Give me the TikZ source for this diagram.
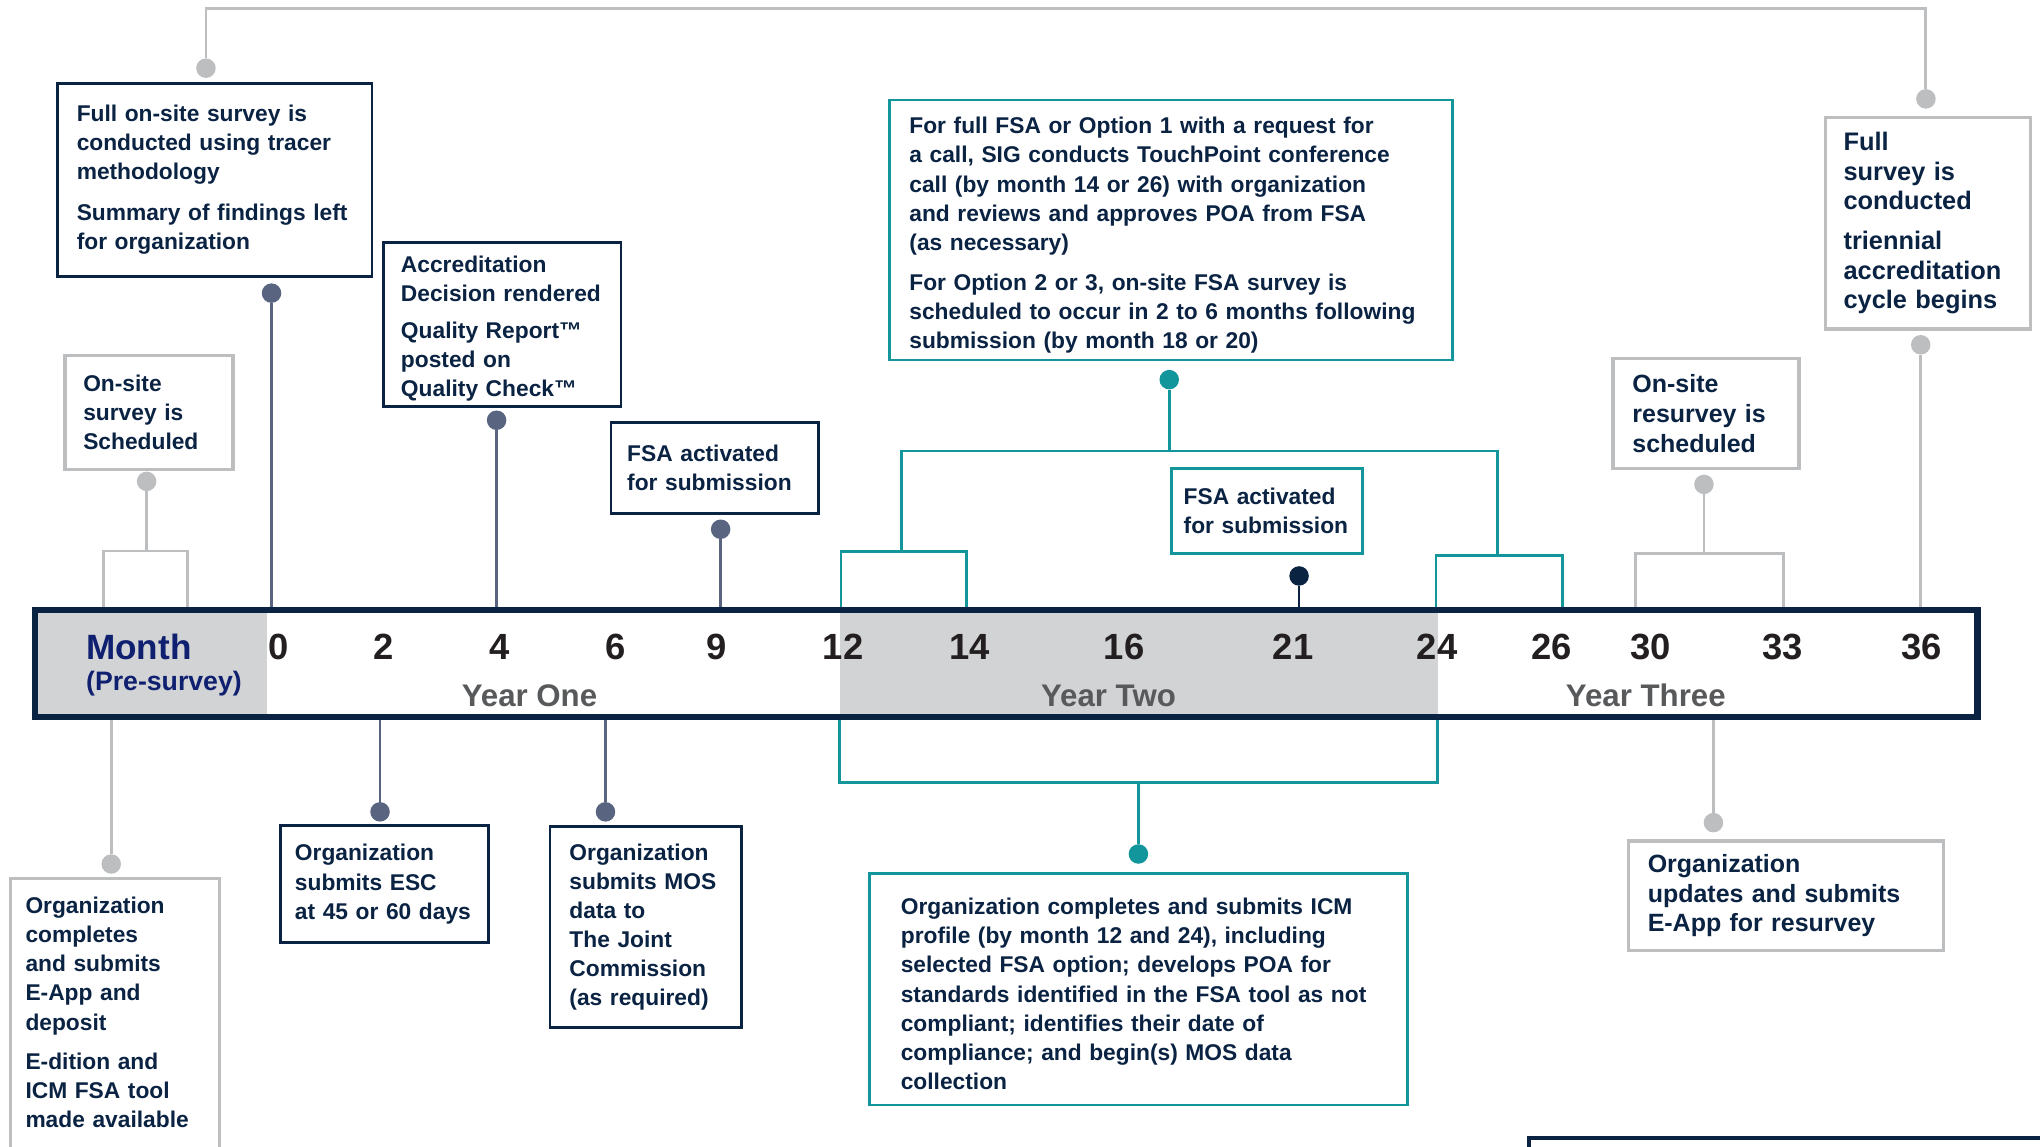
\documentclass[tikz,border=0pt]{standalone}
\usepackage{fontspec}
\setmainfont{Liberation Sans}
\usepackage{tikz}
\definecolor{navy}{RGB}{11,35,67}
\definecolor{monthblue}{RGB}{16,32,112}
\definecolor{jcteal}{RGB}{18,150,156}
\definecolor{slate}{RGB}{88,100,128}
\definecolor{linegray}{RGB}{188,190,192}
\definecolor{bargray}{RGB}{209,211,212}
\definecolor{yeargray}{RGB}{88,89,91}
\definecolor{numblack}{RGB}{35,31,32}
\newcommand\boxfont{\fontsize{17.5}{22.4}\selectfont\bfseries}
\newcommand\wideboxfont{\fontsize{19.2}{22.8}\selectfont\bfseries}

\begin{document}
\begin{tikzpicture}[x=1pt,y=-1pt,
    navybox/.style={draw=navy,line width=2pt,fill=white,anchor=north west,outer sep=0pt,align=left,text=navy,font=\boxfont},
    graybox/.style={navybox,draw=linegray,line width=2.5pt},
    tealbox/.style={navybox,draw=jcteal,line width=2.2pt},
    dot/.style={circle,inner sep=0pt,minimum size=15pt},
    grayline/.style={draw=linegray,line width=2.2pt},
    slateline/.style={draw=slate,line width=1.8pt},
    tealline/.style={draw=jcteal,line width=2pt},
    navyline/.style={draw=navy,line width=2pt},
    monthnum/.style={anchor=base,inner sep=0pt,text=numblack,font=\fontsize{28}{28}\selectfont\bfseries},
    yearlabel/.style={anchor=base,inner sep=0pt,text=yeargray,font=\fontsize{24}{24}\selectfont\bfseries}]
                      \useasboundingbox (0,0) rectangle (1568,881);
                      \clip (0,0) rectangle (1568,881);
                      \fill[bargray] (27,469) rectangle (205,551);
                      \fill[bargray] (646,469) rectangle (1105,551);
                      \node[draw=navy,line width=5pt,inner sep=0pt,minimum width=1493pt,minimum height=82pt,anchor=north west] (bar) at (24.5,466.5) {};
                      \node[anchor=base west,inner sep=0pt,text=monthblue,font=\fontsize{27}{27}\selectfont\bfseries] (monthlbl) at (66,507) {Month};
                      \node[anchor=base west,inner sep=0pt,text=monthblue,font=\fontsize{20.5}{20.5}\selectfont\bfseries] (presurvey) at (66,531) {(Pre-survey)};
                      \foreach \m/\x in {0/214,2/295,4/384,6/473,9/551,12/648,14/745,16/864,21/994,24/1104.6,26/1192.7,30/1268.7,33/1370,36/1477}
                      \node[monthnum] (num\m) at (\x,506.8) {\m};
                      \node[yearlabel] (yearone) at (407,543) {Year One};
                      \node[yearlabel] (yeartwo) at (852,543) {Year Two};
                      \node[yearlabel] (yearthree) at (1265,543) {Year Three};

                      \node[navybox,inner xsep=15pt,text width=212pt,minimum height=148.4pt] (fullonsite) at (44,64)
                        {Full on-site survey is\\conducted using tracer\\methodology\\[9pt]Summary of findings left\\for organization};
                      \node[graybox,inner xsep=14pt,text width=101pt,minimum height=88pt] (sched) at (50,273)
                        {On-site\\survey is\\Scheduled};
                      \node[navybox,inner xsep=13.5pt,text width=155.6pt,minimum height=125.8pt] (decision) at (294.7,186.5)
                        {\rule{0pt}{19pt}Accreditation\\Decision rendered\\[5.5pt]Quality Report™\\posted on\\Quality Check™};
                      \node[navybox,inner xsep=12.5pt,text width=134.3pt,minimum height=70pt] (fsaone) at (469.6,324.9)
                        {FSA activated\\for submission};
                      \node[tealbox,inner xsep=15.5pt,text width=402pt,minimum height=199.8pt] (touchpoint) at (683.5,76.9)
                        {\rule{0pt}{21pt}For full FSA or Option 1 with a request for\\a call, SIG conducts TouchPoint conference\\call (by month 14 or 26) with organization\\and reviews and approves POA from FSA\\(as necessary)\\[8.5pt]For Option 2 or 3, on-site FSA survey is\\scheduled to occur in 2 to 6 months following\\submission (by month 18 or 20)};
                      \node[tealbox,inner xsep=9.5pt,text width=127.9pt,minimum height=65.1pt] (fsatwo) at (900.3,360.4)
                        {FSA activated\\for submission};
                      \node[graybox,font=\wideboxfont,inner xsep=15pt,text width=113pt,minimum height=84.5pt] (resurvey) at (1239.7,275.6)
                        {On-site\\resurvey is\\scheduled};
                      \node[graybox,font=\fontsize{19.5}{22.5}\selectfont\bfseries,inner xsep=14pt,text width=129.6pt,minimum height=162.5pt] (triennial) at (1403,90.3)
                        {Full\\survey is\\conducted\\[8.5pt]triennial\\accreditation\\cycle begins};

                      \node[navybox,draw=none,fill=none,inner xsep=11.8pt,inner ysep=14pt,text width=137.2pt] (orgapp) at (7.8,675.5)
                        {Organization\\completes\\and submits\\E-App and\\deposit\\[8pt]E-dition and\\ICM FSA tool\\made available};
                      \draw[linegray,line width=2.5pt] (orgapp.north west) rectangle ([yshift=-40pt]orgapp.south east);
                      \node[navybox,inner xsep=11pt,text width=137.9pt,minimum height=90.1pt] (esc) at (215.7,634.5)
                        {Organization\\submits ESC\\at 45 or 60 days};
                      \node[navybox,inner xsep=15pt,text width=117pt,minimum height=154.6pt] (mos) at (422.7,635.3)
                        {Organization\\submits MOS\\data to\\The Joint\\Commission\\(as required)};
                      \node[tealbox,inner xsep=24pt,text width=365.3pt,minimum height=178.1pt] (icm) at (668.4,671.2)
                        {\rule{0pt}{20pt}Organization completes and submits ICM\\profile (by month 12 and 24), including\\selected FSA option; develops POA for\\standards identified in the FSA tool as not\\compliant; identifies their date of\\compliance; and begin(s) MOS data\\collection};
                      \node[graybox,font=\wideboxfont,inner xsep=14.6pt,text width=212.7pt,minimum height=84.3pt] (update) at (1251.9,646.4)
                        {Organization\\updates and submits\\E-App for resurvey};
                      \node[navybox,line width=3pt,minimum width=500pt,minimum height=100pt] (nextbox) at (1175.3,874.9) {};

                      \node[dot,fill=linegray] (dotsurvey) at (158.3,52.4) {};
                      \node[dot,fill=linegray] (dotnext) at (1480.3,76) {};
                      \node[dot,fill=slate] (dotfull) at (208.7,225.3) {};
                      \node[dot,fill=linegray] (dotsched) at (112.7,370) {};
                      \node[dot,fill=slate] (dotdecision) at (381.7,323) {};
                      \node[dot,fill=slate] (dotfsaone) at (553.9,406.8) {};
                      \node[dot,fill=jcteal] (dottouch) at (898.7,291.8) {};
                      \node[dot,fill=navy] (dotfsatwo) at (998.5,442.7) {};
                      \node[dot,fill=linegray] (dotresurvey) at (1309.7,372.3) {};
                      \node[dot,fill=linegray] (dottriennial) at (1476.3,265) {};
                      \node[dot,fill=linegray] (dotapp) at (85.5,664.1) {};
                      \node[dot,fill=slate] (dotesc) at (292.1,624) {};
                      \node[dot,fill=slate] (dotmos) at (465.4,624) {};
                      \node[dot,fill=jcteal] (doticm) at (875,656.4) {};
                      \node[dot,fill=linegray] (dotupdate) at (1317,632.3) {};

                      \coordinate (cycletop) at (0,6.6);
                      \draw[grayline] (dotsurvey.north) -- (dotsurvey |- cycletop) -| (dotnext.north);
                      \draw[slateline] (dotfull.south) -- (dotfull |- bar.north);
                      \coordinate (schedfork) at (112.7,423.5);
                      \draw[grayline] (dotsched.south) -- (schedfork);
                      \draw[grayline] (79.5,0 |- bar.north) |- (schedfork) -| (143.8,0 |- bar.north);
                      \draw[slateline] (dotdecision.south) -- (dotdecision |- bar.north);
                      \draw[slateline] (dotfsaone.south) -- (dotfsaone |- bar.north);
                      \coordinate (touchfork) at (898.7,346.7);
                      \draw[tealline] (dottouch.south) -- (touchfork);
                      \draw[tealline] (693.1,424.1) |- (touchfork) -| (1150.8,427);
                      \draw[tealline] (646.5,0 |- bar.north) |- (743,424.1) -- (743,0 |- bar.north);
                      \draw[tealline] (1103.7,0 |- bar.north) |- (1200.9,427) -- (1200.9,0 |- bar.north);
                      \draw[navyline] (dotfsatwo.south) -- (dotfsatwo |- bar.north);
                      \coordinate (resurveyfork) at (1309.7,425.5);
                      \draw[grayline] (dotresurvey.south) -- (resurveyfork);
                      \draw[grayline] (1256.9,0 |- bar.north) |- (resurveyfork) -| (1371,0 |- bar.north);
                      \draw[grayline] (dottriennial.south) -- (dottriennial |- bar.north);

                      \draw[grayline] (dotapp |- bar.south) -- (dotapp.north);
                      \draw[slateline] (dotesc |- bar.south) -- (dotesc.north);
                      \draw[slateline] (dotmos |- bar.south) -- (dotmos.north);
                      \coordinate (icmfork) at (875,601.6);
                      \draw[tealline] (645.3,0 |- bar.south) |- (icmfork) -| (1104.8,0 |- bar.south);
                      \draw[tealline] (icmfork) -- (doticm.north);
                      \draw[grayline] (dotupdate |- bar.south) -- (dotupdate.north);
                  \end{tikzpicture}
\end{document}
